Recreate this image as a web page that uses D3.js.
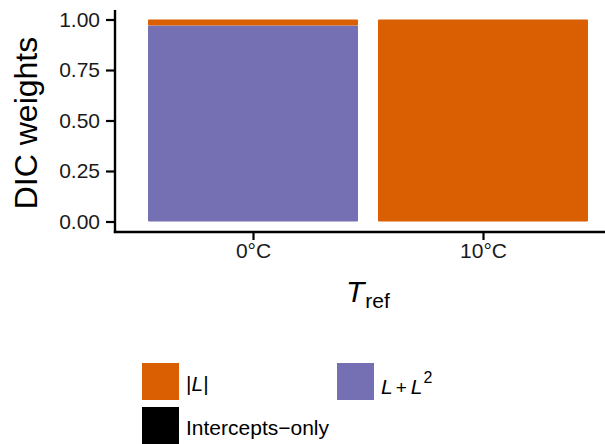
<!DOCTYPE html>
<html>
<head>
<meta charset="utf-8">
<script src="https://cdn.jsdelivr.net/npm/d3@7"></script>
<style>
  html, body { margin: 0; padding: 0; background: #fff; }
  svg { display: block; font-family: "Liberation Sans", Arial, sans-serif; }
</style>
</head>
<body>
<svg id="chart" width="605" height="444"></svg>
<script>
// Reference temperatures on the x axis
const categories = ["0°C", "10°C"];
// Model names, in stacking order (bottom to top)
const models = ["L + L2", "|L|", "Intercepts-only"];
// DIC weights per model for each reference temperature
const weightLL2 = [0.97, 0.00];
const weightAbsL = [0.03, 1.00];
const weightIntercept = [0.00, 0.00];
const yTicks = [0, 0.25, 0.5, 0.75, 1.0];

const colors = { "|L|": "#D95F02", "L + L2": "#7570B3", "Intercepts-only": "#000000" };
const FONT = "Liberation Sans, Arial, sans-serif";

const svg = d3.select("#chart");
const panel = { left: 115, right: 621, top: 10, bottom: 232 };

const rows = categories.map((c, i) => ({
  cat: c,
  "L + L2": weightLL2[i],
  "|L|": weightAbsL[i],
  "Intercepts-only": weightIntercept[i]
}));
const stacked = d3.stack().keys(models)(rows);

// Discrete x positions: 0.6 category-widths of padding on each side
const x = d3.scalePoint().domain(categories).range([253, 483]);
const step = x.step();
const barW = step * 0.913;

const y = d3.scaleLinear().domain([0, 1]).range([221.5, 19.5]);

// Stacked bars
stacked.forEach(layer => {
  svg.append("g").selectAll("rect")
    .data(layer.filter(d => d[1] - d[0] > 0))
    .join("rect")
    .attr("x", d => x(d.data.cat) - barW / 2)
    .attr("width", barW)
    .attr("y", d => y(d[1]))
    .attr("height", d => y(d[0]) - y(d[1]))
    .attr("rx", 1)
    .attr("fill", colors[layer.key]);
});

// Y axis
const yAxis = d3.axisLeft(y).tickValues(yTicks).tickFormat(d3.format(".2f")).tickSize(9).tickPadding(6);
const gy = svg.append("g").attr("transform", `translate(${panel.left},0)`).call(yAxis);
gy.select(".domain").remove();
gy.selectAll(".tick line").attr("stroke", "#000").attr("stroke-width", 2.2);
gy.selectAll(".tick text").attr("font-size", 21).attr("fill", "#1a1a1a").attr("font-family", FONT);
svg.append("line").attr("x1", panel.left).attr("x2", panel.left)
  .attr("y1", panel.top).attr("y2", panel.bottom + 1.1)
  .attr("stroke", "#000").attr("stroke-width", 2.4);

// X axis
const xAxis = d3.axisBottom(x).tickSize(8).tickPadding(3);
const gx = svg.append("g").attr("transform", `translate(0,${panel.bottom})`).call(xAxis);
gx.select(".domain").remove();
gx.selectAll(".tick line").attr("stroke", "#000").attr("stroke-width", 2.2);
gx.selectAll(".tick text").attr("font-size", 21).attr("fill", "#1a1a1a").attr("font-family", FONT);
svg.append("line").attr("x1", panel.left - 1.2).attr("x2", 605)
  .attr("y1", panel.bottom).attr("y2", panel.bottom)
  .attr("stroke", "#000").attr("stroke-width", 2.4);

// Axis titles
svg.append("text")
  .attr("transform", "translate(37,123) rotate(-90)")
  .attr("text-anchor", "middle")
  .attr("font-size", 32)
  .attr("fill", "#000")
  .text("DIC weights");

const xt = svg.append("text")
  .attr("x", 346).attr("y", 302)
  .attr("fill", "#000");
xt.append("tspan").attr("font-style", "italic").attr("font-size", 30).text("T");
xt.append("tspan").attr("font-size", 21).attr("dy", 6).attr("dx", 1).text("ref");

// Legend
const legend = [
  { key: "|L|", x: 142, y: 363 },
  { key: "L + L2", x: 337, y: 363 },
  { key: "Intercepts-only", x: 142, y: 407 }
];
const lg = svg.append("g");
legend.forEach(item => {
  lg.append("rect").attr("x", item.x).attr("y", item.y)
    .attr("width", 37).attr("height", 37).attr("fill", colors[item.key]);
  const t = lg.append("text").attr("x", item.x + 44).attr("y", item.y + 28)
    .attr("font-size", 21).attr("fill", "#000");
  if (item.key === "|L|") {
    t.append("tspan").text("|");
    t.append("tspan").attr("font-style", "italic").text("L");
    t.append("tspan").text("|");
  } else if (item.key === "L + L2") {
    t.attr("y", item.y + 31);
    t.append("tspan").attr("font-style", "italic").text("L");
    t.append("tspan").attr("font-size", 19).attr("dx", 3).text("+");
    t.append("tspan").attr("font-style", "italic").attr("dx", 4).text("L");
    t.append("tspan").attr("font-size", 16).attr("dy", -11).attr("dx", 1).text("2");
  } else {
    t.text("Intercepts\u2212only");
  }
});
</script>
</body>
</html>
